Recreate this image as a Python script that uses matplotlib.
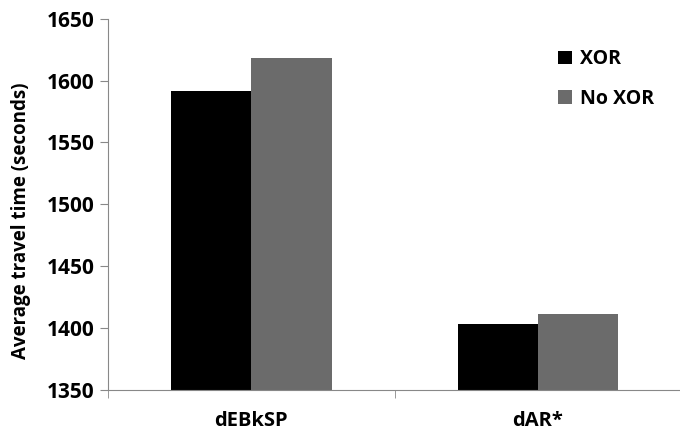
import matplotlib.pyplot as plt
import numpy as np

categories = ['dEBkSP', 'dAR*']
xor_vals = [1592, 1403]
no_xor_vals = [1618, 1411]
series_names = ['XOR', 'No XOR']

plt.rcParams['font.family'] = ['Open Sans', 'DejaVu Sans']
plt.rcParams['font.weight'] = 'bold'

fig = plt.figure(figsize=(6.8, 4.37), dpi=100)
ax = fig.add_axes([0.159, 0.108, 0.843, 0.849])

x = np.arange(len(categories))
w = 0.28
ax.bar(x - w / 2, xor_vals, w, color='#000000', label=series_names[0])
ax.bar(x + w / 2, no_xor_vals, w, color='#6b6b6b', label=series_names[1])

ax.set_xlim(-0.5, 1.5)
ax.set_ylim(1350, 1650)
ax.set_yticks(np.arange(1350, 1651, 50))
ax.set_xticks(x)
ax.set_xticklabels(categories, fontsize=14.5, fontweight='bold')
ax.set_xticks([-0.5, 0.5, 1.5], minor=True)
ax.tick_params(axis='x', which='major', length=0, pad=15)
ax.tick_params(axis='x', which='minor', length=6, color='#888888')
ax.tick_params(axis='y', length=6, color='#888888', labelsize=15, pad=4)
for lab in ax.get_yticklabels():
    lab.set_fontweight('bold')

for s in ['top', 'right']:
    ax.spines[s].set_visible(False)
for s in ['left', 'bottom']:
    ax.spines[s].set_color('#888888')

ax.set_ylabel('Average travel time (seconds)', fontsize=13.5, fontweight='bold')
ax.yaxis.set_label_coords(-0.135, 0.455)

ax.legend(loc='upper left', bbox_to_anchor=(0.755, 0.965), frameon=False, fontsize=14,
          handlelength=0.7, handleheight=0.7, labelspacing=1.0, handletextpad=0.4)

fig.savefig('out.png', dpi=100)
